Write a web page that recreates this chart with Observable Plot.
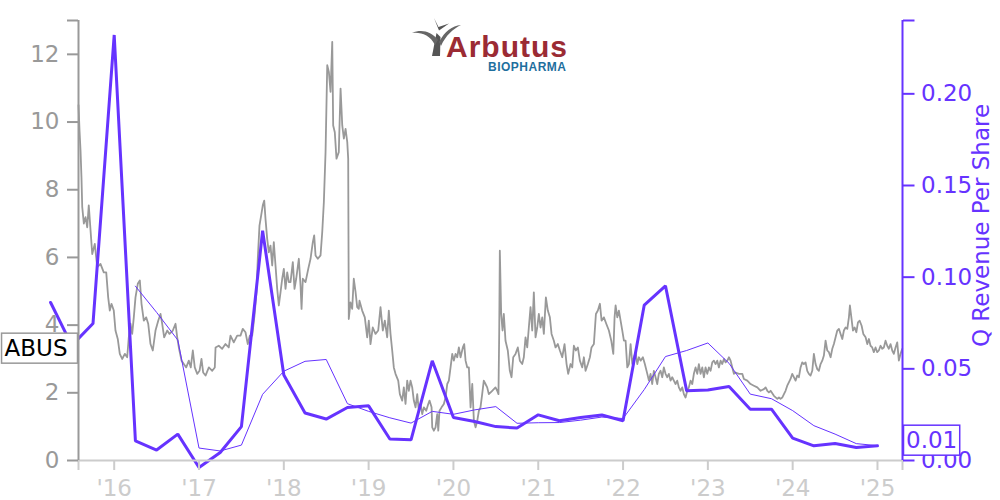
<!DOCTYPE html>
<html><head><meta charset="utf-8">
<script src="https://cdn.jsdelivr.net/npm/d3@7"></script>
<script src="https://cdn.jsdelivr.net/npm/@observablehq/plot@0.6"></script>
<style>
body{margin:0;background:#fff;}
#wrap{position:relative;width:1000px;height:500px;overflow:hidden;font-family:"DejaVu Sans";}
#logo{position:absolute;left:0;top:0;pointer-events:none;}
</style></head><body><div id="wrap"></div>
<script>
// ---- Data ----
const ticker = "ABUS";
const priceDates = [
2015.579,2015.591,2015.603,2015.614,2015.623,2015.642,2015.662,2015.682,2015.700,2015.721,
2015.741,2015.771,2015.800,2015.838,2015.877,2015.906,2015.929,2015.948,2015.968,2015.995,
2016.015,2016.042,2016.066,2016.094,2016.125,2016.153,2016.172,2016.192,2016.212,2016.231,
2016.251,2016.278,2016.302,2016.322,2016.349,2016.377,2016.401,2016.428,2016.455,2016.487,
2016.519,2016.546,2016.566,2016.589,2016.625,2016.652,2016.691,2016.723,2016.743,2016.762,
2016.794,2016.821,2016.849,2016.880,2016.903,2016.927,2016.950,2016.979,2017.006,2017.029,
2017.049,2017.077,2017.116,2017.156,2017.186,2017.195,2017.233,2017.273,2017.312,2017.351,
2017.371,2017.410,2017.450,2017.489,2017.516,2017.548,2017.575,2017.599,2017.627,2017.654,
2017.678,2017.693,2017.713,2017.733,2017.752,2017.769,2017.784,2017.804,2017.823,2017.843,
2017.863,2017.882,2017.902,2017.922,2017.941,2017.961,2017.981,2018.000,2018.020,2018.040,
2018.059,2018.079,2018.106,2018.126,2018.146,2018.177,2018.197,2018.209,2018.224,2018.256,
2018.288,2018.315,2018.342,2018.358,2018.374,2018.401,2018.433,2018.453,2018.472,2018.492,
2018.512,2018.531,2018.551,2018.571,2018.582,2018.601,2018.621,2018.648,2018.669,2018.689,
2018.708,2018.728,2018.748,2018.759,2018.766,2018.786,2018.806,2018.825,2018.845,2018.865,
2018.884,2018.892,2018.924,2018.955,2018.983,2019.002,2019.022,2019.049,2019.081,2019.113,
2019.140,2019.167,2019.191,2019.219,2019.238,2019.258,2019.278,2019.297,2019.317,2019.349,
2019.368,2019.396,2019.415,2019.435,2019.455,2019.474,2019.494,2019.514,2019.533,2019.553,
2019.573,2019.592,2019.612,2019.632,2019.651,2019.679,2019.703,2019.718,2019.742,2019.750,
2019.769,2019.789,2019.809,2019.821,2019.836,2019.860,2019.887,2019.907,2019.927,2019.946,
2019.966,2019.986,2020.005,2020.025,2020.045,2020.064,2020.084,2020.111,2020.127,2020.143,
2020.163,2020.182,2020.202,2020.222,2020.241,2020.261,2020.281,2020.300,2020.319,2020.339,
2020.358,2020.378,2020.398,2020.417,2020.457,2020.496,2020.516,2020.531,2020.540,2020.547,
2020.563,2020.579,2020.594,2020.614,2020.641,2020.665,2020.685,2020.705,2020.732,2020.759,
2020.783,2020.811,2020.830,2020.850,2020.870,2020.889,2020.909,2020.929,2020.948,2020.968,
2020.988,2021.007,2021.027,2021.047,2021.066,2021.090,2021.113,2021.137,2021.157,2021.184,
2021.204,2021.231,2021.255,2021.283,2021.310,2021.334,2021.353,2021.381,2021.401,2021.420,
2021.443,2021.467,2021.491,2021.519,2021.538,2021.558,2021.585,2021.609,2021.628,2021.656,
2021.680,2021.703,2021.727,2021.747,2021.774,2021.802,2021.833,2021.861,2021.885,2021.900,
2021.912,2021.932,2021.951,2021.971,2021.991,2022.010,2022.030,2022.050,2022.069,2022.089,
2022.109,2022.128,2022.148,2022.168,2022.187,2022.207,2022.234,2022.257,2022.286,2022.305,
2022.324,2022.344,2022.363,2022.383,2022.403,2022.422,2022.442,2022.462,2022.481,2022.501,
2022.521,2022.540,2022.560,2022.580,2022.599,2022.619,2022.639,2022.658,2022.678,2022.698,
2022.717,2022.737,2022.757,2022.776,2022.796,2022.816,2022.835,2022.855,2022.875,2022.894,
2022.914,2022.934,2022.953,2022.973,2022.993,2023.012,2023.032,2023.052,2023.071,2023.091,
2023.111,2023.130,2023.150,2023.170,2023.189,2023.209,2023.229,2023.248,2023.268,2023.288,
2023.307,2023.327,2023.366,2023.406,2023.425,2023.465,2023.504,2023.543,2023.583,2023.622,
2023.661,2023.681,2023.701,2023.720,2023.740,2023.779,2023.819,2023.838,2023.857,2023.877,
2023.897,2023.916,2023.936,2023.955,2023.975,2023.995,2024.014,2024.034,2024.054,2024.073,
2024.093,2024.113,2024.132,2024.152,2024.172,2024.191,2024.211,2024.231,2024.250,2024.270,
2024.290,2024.309,2024.329,2024.349,2024.368,2024.388,2024.408,2024.427,2024.447,2024.467,
2024.486,2024.506,2024.526,2024.545,2024.565,2024.585,2024.604,2024.624,2024.644,2024.663,
2024.675,2024.692,2024.711,2024.731,2024.751,2024.770,2024.790,2024.813,2024.833,2024.860,
2024.880,2024.899,2024.918,2024.938,2024.957,2024.977,2024.997,2025.016,2025.036,2025.056,
2025.075,2025.095,2025.115,2025.134,2025.154,2025.174,2025.193,2025.213,2025.233,2025.252,
2025.272,2025.292
];
const priceValues = [
10.5,9.75,9.15,8.37,7.49,7.0,7.19,6.89,7.54,6.8,
6.1,6.4,5.71,5.81,5.56,5.56,4.82,4.43,4.63,4.43,
3.84,3.59,3.15,3.0,3.15,3.05,3.64,4.04,3.74,4.23,
4.82,5.22,5.32,4.63,4.13,4.23,4.04,3.44,3.25,3.84,
4.13,4.33,4.04,3.64,3.84,3.74,3.84,4.04,3.64,3.34,
2.95,2.85,2.75,2.95,2.75,3.25,2.75,2.56,2.65,3.0,
2.6,2.51,2.75,2.65,2.75,3.34,3.39,3.3,3.44,3.34,
3.69,3.49,3.69,3.69,3.89,3.79,3.44,3.69,3.69,4.28,
4.97,5.96,6.94,7.24,7.54,7.68,7.14,6.55,6.15,6.35,
5.76,6.45,5.76,5.07,4.58,4.97,5.37,5.66,5.07,5.56,
5.27,5.27,5.86,5.07,5.37,5.96,5.17,4.48,5.37,5.27,
5.66,5.96,6.45,6.65,6.06,5.96,6.06,6.75,7.63,9.11,
11.68,11.48,10.89,12.37,9.9,9.7,8.92,9.11,10.99,9.9,
9.51,9.8,9.41,8.92,4.18,4.67,4.48,5.37,5.0,4.53,
4.48,4.72,4.43,4.23,3.64,4.13,3.44,3.93,3.74,3.84,
4.53,3.84,4.13,3.64,4.43,3.74,3.25,2.75,2.56,2.36,
1.96,1.77,2.16,1.67,2.36,2.06,2.36,2.16,1.77,1.57,
1.96,1.47,1.67,1.37,1.57,1.47,1.67,1.77,1.57,0.98,
0.88,0.98,1.37,0.88,1.47,1.57,1.67,1.86,2.26,2.36,
2.75,3.15,2.95,3.15,3.05,3.34,3.05,3.34,3.44,2.95,
2.75,2.75,1.57,2.26,1.17,0.98,1.17,1.47,1.57,1.96,
2.36,2.26,2.16,1.96,2.06,2.16,2.06,1.96,3.84,6.2,
4.33,3.84,4.33,3.54,3.25,2.65,2.46,3.05,3.15,3.34,
2.95,2.85,3.05,3.64,3.34,3.93,4.53,3.84,4.97,3.64,
3.93,4.33,3.93,4.23,3.74,4.82,4.43,4.23,3.74,3.54,
3.34,3.44,3.25,3.05,3.44,2.85,2.56,2.85,2.75,3.39,
3.25,3.34,2.95,2.75,3.05,2.65,2.85,3.05,3.34,3.44,
4.33,4.43,4.63,4.13,4.23,4.04,3.84,3.54,3.15,4.23,
4.58,4.23,4.43,4.13,3.84,3.54,3.54,2.75,2.85,3.44,
2.85,3.05,3.2,2.85,3.05,2.95,3.05,2.85,2.56,2.36,
2.56,2.26,2.65,2.46,2.26,2.56,2.65,2.46,2.75,2.56,
2.46,2.56,2.36,2.46,2.36,2.26,2.36,2.16,2.06,2.16,
1.96,1.86,2.06,2.16,2.36,2.26,2.56,2.75,2.56,2.85,
2.56,2.75,2.46,2.75,2.56,2.75,2.65,2.9,2.95,2.85,
2.95,2.75,2.95,2.85,3.0,2.9,2.95,3.05,2.95,2.75,
2.56,2.6,2.56,2.56,2.41,2.36,2.26,2.21,2.16,2.06,
2.11,2.16,2.06,2.01,2.06,1.91,1.82,1.86,1.82,1.86,
1.96,2.06,2.21,2.31,2.41,2.56,2.46,2.36,2.51,2.46,
2.75,2.9,2.85,2.9,2.65,2.56,2.51,2.65,3.15,2.85,
2.7,2.65,2.85,2.95,3.1,3.54,3.25,3.2,3.05,3.3,
3.44,3.64,3.84,3.89,3.74,3.59,3.84,3.93,3.89,4.23,
4.58,4.23,3.84,3.93,3.79,4.08,4.13,3.98,3.74,3.64,
3.44,3.59,3.39,3.34,3.2,3.34,3.2,3.25,3.39,3.3,
3.34,3.54,3.39,3.3,3.44,3.25,3.15,3.34,3.49,2.95,
3.15,3.3
];
const quarterDates = [
2015.25,2015.5,2015.75,2016.0,2016.25,2016.5,2016.75,2017.0,2017.25,2017.5,
2017.75,2018.0,2018.25,2018.5,2018.75,2019.0,2019.25,2019.5,2019.75,2020.0,
2020.25,2020.5,2020.75,2021.0,2021.25,2021.5,2021.75,2022.0,2022.25,2022.5,
2022.75,2023.0,2023.25,2023.5,2023.75,2024.0,2024.25,2024.5,2024.75,2025.0
];
const quarterRevPerShare = [
0.0862,0.0628,0.0747,0.2321,0.0107,0.0057,0.0144,-0.0038,0.0044,0.0185,
0.1253,0.0466,0.0259,0.0226,0.0289,0.0298,0.0117,0.0113,0.0544,0.0235,
0.0213,0.0185,0.0177,0.0249,0.0217,0.0235,0.0248,0.0217,0.0848,0.0953,
0.0380,0.0384,0.0404,0.0280,0.0280,0.0122,0.0080,0.0093,0.0071,0.0080
];
const ttmDates = [
2016.25,2016.5,2016.75,2017.0,2017.25,2017.5,2017.75,2018.0,2018.25,2018.5,
2018.75,2019.0,2019.25,2019.5,2019.75,2020.0,2020.25,2020.5,2020.75,2021.0,
2021.25,2021.5,2021.75,2022.0,2022.25,2022.5,2022.75,2023.0,2023.25,2023.5,
2023.75,2024.0,2024.25,2024.5,2024.75,2025.0
];
const ttmRevPerShare = [
0.0951,0.0808,0.0657,0.0068,0.0052,0.0084,0.0361,0.0487,0.0541,0.0551,
0.0310,0.0268,0.0233,0.0204,0.0268,0.0252,0.0276,0.0294,0.0203,0.0206,
0.0207,0.0220,0.0237,0.0229,0.0387,0.0567,0.0600,0.0641,0.0530,0.0362,
0.0337,0.0272,0.0190,0.0144,0.0092,0.0081
];
const yearTicks = [2016,2017,2018,2019,2020,2021,2022,2023,2024,2025];
const priceTicks = [0,2,4,6,8,10,12];
const revTicks = [0,0.05,0.10,0.15,0.20];
const xDomain = [2015.579, 2025.295];
const priceDomain = [0, 13];
const revDomain = [0, 0.24];
const revLabel = "Q Revenue Per Share";

// ---- Chart ----
const purple = "#6633ff";
const K = priceDomain[1] / revDomain[1]; // map revenue onto the shared vertical scale
const price = priceDates.map((t, i) => ({t, v: priceValues[i]}));
const rev = quarterDates.map((t, i) => ({t, v: quarterRevPerShare[i]}));
const ttm = ttmDates.map((t, i) => ({t, v: ttmRevPerShare[i]}));
const lastPrice = priceValues[priceValues.length - 1];
const lastRev = quarterRevPerShare[quarterRevPerShare.length - 1];

const chart = Plot.plot({
  width: 1000, height: 500,
  marginLeft: 78, marginRight: 98, marginTop: 20, marginBottom: 40,
  style: {fontFamily: "DejaVu Sans", fontSize: "23px", background: "transparent", overflow: "visible"},
  x: {type: "linear", domain: xDomain},
  y: {domain: priceDomain},
  marks: [
    Plot.line(price, {x: "t", y: "v", stroke: "#999", strokeWidth: 1.8}),
    Plot.line(ttm, {x: "t", y: d => d.v * K, stroke: purple, strokeWidth: 1}),
    Plot.line(rev, {x: "t", y: d => d.v * K, stroke: purple, strokeWidth: 3, strokeLinejoin: "miter"}),
    Plot.ruleY([priceDomain[0]], {stroke: "#ccc", strokeWidth: 2}),
    Plot.ruleX([xDomain[0]], {stroke: "#999", strokeWidth: 2}),
    Plot.ruleX([xDomain[1]], {stroke: purple, strokeWidth: 2}),
    Plot.axisX({
      ticks: [xDomain[0], ...yearTicks, xDomain[1]],
      tickFormat: d => yearTicks.includes(d) ? "'" + String(d).slice(2) : "",
      tickSize: 10, tickPadding: 9, color: "#ccc", fontSize: 23, strokeWidth: 2, label: null
    }),
    Plot.axisY({
      anchor: "left",
      ticks: [...priceTicks, priceDomain[1]],
      tickFormat: d => d === priceDomain[1] ? "" : String(d),
      tickSize: 11, tickPadding: 8, color: "#999", fontSize: 23, strokeWidth: 2, label: null
    }),
    Plot.axisY({
      anchor: "right",
      ticks: [...revTicks, revDomain[1]].map(v => v * K),
      tickFormat: d => Math.abs(d / K - revDomain[1]) < 1e-9 ? "" : (d / K).toFixed(2),
      tickSize: 11.5, tickPadding: 7, color: purple, fontSize: 23, strokeWidth: 2, label: null
    }),
    Plot.text([revLabel], {frameAnchor: "right", text: d => d, rotate: -90, dx: 79, dy: -15,
      fill: purple, fontSize: 23, textAnchor: "middle", lineAnchor: "middle"}),
    Plot.text([lastPrice], {frameAnchor: "left", y: d => d, text: () => ticker,
      textAnchor: "end", dx: -11, fill: "black", fontSize: 23, lineAnchor: "middle"}),
    Plot.text([lastRev * K], {frameAnchor: "right", y: d => d, text: d => (d / K).toFixed(2),
      textAnchor: "start", dx: 3.5, dy: -5, fill: purple, fontSize: 23, lineAnchor: "middle"})
  ]
});

const wrap = document.getElementById("wrap");
wrap.appendChild(chart);

// boxes behind the two value labels
function boxText(content, stroke, padL, padR, padY) {
  chart.querySelectorAll("text").forEach(t => {
    if (t.textContent !== content) return;
    const b = t.getBBox();
    const r = document.createElementNS("http://www.w3.org/2000/svg", "rect");
    r.setAttribute("x", b.x - padL);
    r.setAttribute("y", b.y - padY);
    r.setAttribute("width", b.width + padL + padR);
    r.setAttribute("height", b.height + padY * 2);
    r.setAttribute("fill", "white");
    r.setAttribute("stroke", stroke);
    r.setAttribute("stroke-width", "1.5");
    if (t.getAttribute("transform")) r.setAttribute("transform", t.getAttribute("transform"));
    t.parentNode.insertBefore(r, t);
  });
}
boxText(ticker, "#999", 3, 10, 2);
boxText((lastRev).toFixed(2), purple, 2.5, 2.5, 2);

// logo (decoration)
const logo = document.createElementNS("http://www.w3.org/2000/svg", "svg");
logo.setAttribute("id", "logo");
logo.setAttribute("width", 1000);
logo.setAttribute("height", 500);
logo.innerHTML = `
  <path d="M432,56 L440,56 L440.5,37 L436.5,33 Z" fill="#555"/>
  <path d="M438,40 C431,31 421,29 412,33 C421,32 430,35 435,45 Z" fill="#666"/>
  <path d="M439,42 C445,31 452,26 461,25 C453,29 446,35 441,46 Z" fill="#666"/>
  <path d="M434,18 L438.5,27 L449,23.5 L439,30.5 Z" fill="#555"/>
  <text x="446" y="57" font-family="Liberation Sans" font-weight="bold" font-size="30" fill="#9b2b34" textLength="121">Arbutus</text>
  <text x="488" y="71" font-family="Liberation Sans" font-weight="bold" font-size="12" fill="#1f6f9e" textLength="78">BIOPHARMA</text>`;
wrap.appendChild(logo);
</script>
</body></html>
